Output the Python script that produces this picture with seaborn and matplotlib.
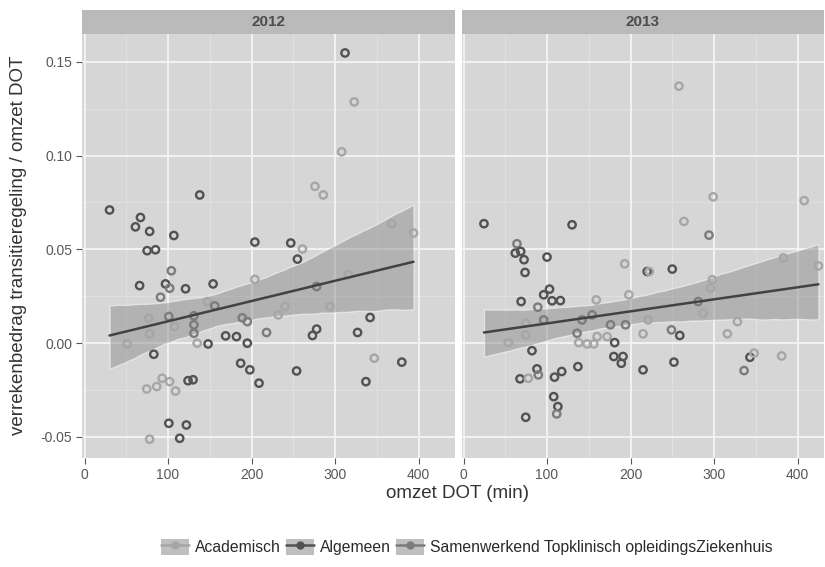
import numpy as np
import pandas as pd
import seaborn as sns
import matplotlib
matplotlib.use("Agg")
import matplotlib.pyplot as plt
from matplotlib.patches import Rectangle, Patch
from matplotlib.lines import Line2D
from matplotlib.legend_handler import HandlerTuple

# ---------------- data ----------------
categories = ["Academisch", "Algemeen", "Samenwerkend Topklinisch opleidingsZiekenhuis"]
years = ["2012", "2013"]

x_2012 = [312, 323, 308, 138, 276, 286, 30, 67, 61, 78, 107, 368, 394, 204, 75, 85,
          104, 97, 102, 66, 121, 154, 204, 91, 147, 156, 77, 101, 131, 131, 108, 78,
          131, 195, 218, 51, 135, 148, 169, 182, 195, 83, 187, 198, 209, 124, 130,
          74.5, 86.5, 93, 102, 109, 101, 122, 78, 114, 247, 261, 255, 316, 278, 232,
          294, 240, 342, 278, 273, 327, 347, 380, 254, 337, 189]
y_2012 = [0.1547, 0.1286, 0.102, 0.079, 0.0836, 0.079, 0.071, 0.067, 0.062, 0.0596,
          0.0574, 0.0637, 0.0587, 0.0539, 0.0493, 0.0498, 0.0386, 0.0316, 0.0293,
          0.0307, 0.029, 0.0316, 0.034, 0.0245, 0.0222, 0.0199, 0.0133, 0.0142,
          0.0146, 0.0098, 0.0089, 0.005, 0.0053, 0.0115, 0.0057, -0.0004, 0.0,
          -0.0004, 0.0039, 0.0035, 0.0, -0.0059, -0.0107, -0.0142, -0.0213, -0.020,
          -0.0195, -0.0244, -0.0231, -0.0187, -0.0205, -0.0255, -0.0427, -0.0436,
          -0.0512, -0.0507, 0.0534, 0.0502, 0.0448, 0.0364, 0.0302, 0.0151, 0.0195,
          0.0195, 0.0137, 0.0075, 0.0041, 0.0057, -0.008, -0.0101, -0.0148, -0.0205,
          0.0135]
cat_2012 = ["G", "A", "A", "G", "A", "A", "G", "G", "G", "G", "G", "A", "A", "G", "G", "G",
            "S", "G", "S", "G", "G", "G", "A", "S", "A", "S", "A", "S", "S", "S", "A", "A",
            "S", "S", "S", "A", "A", "G", "G", "G", "G", "G", "G", "G", "G", "G", "G",
            "A", "A", "A", "A", "A", "G", "G", "A", "G", "G", "A", "G", "A", "S", "A",
            "A", "A", "G", "G", "G", "G", "A", "G", "G", "G", "S"]

x_2013 = [258, 299, 408, 24.5, 130, 264, 294, 64, 62, 68.5, 72.5, 73.7, 100, 193, 220,
          103, 96, 106, 116, 69, 159, 198, 89, 96, 74.5, 74.5, 53.7, 142, 136, 154, 176,
          194, 138, 148, 156, 160, 172, 181, 215, 82, 180, 191, 189, 137, 215, 67.7,
          77.6, 88, 89.6, 109, 117.6, 108, 113, 111.6, 74.5, 383, 425, 222.5, 250, 298,
          296, 281, 287, 328, 221, 249, 259, 316, 252, 343, 348, 381, 336]
y_2013 = [0.137, 0.078, 0.076, 0.0637, 0.0631, 0.0649, 0.0576, 0.053, 0.048, 0.0489,
          0.0445, 0.0377, 0.0459, 0.0423, 0.0382, 0.0288, 0.0258, 0.0226, 0.0227,
          0.0222, 0.0231, 0.0258, 0.0192, 0.0124, 0.0107, 0.0044, 0.0003, 0.0124,
          0.0053, 0.0151, 0.0098, 0.0098, 0.0003, -0.0004, -0.0004, 0.0035, 0.0035,
          0.0003, 0.005, -0.004, -0.0071, -0.0071, -0.0107, -0.0125, -0.0142, -0.019,
          -0.0187, -0.0137, -0.0169, -0.0181, -0.0151, -0.0285, -0.0338, -0.0377,
          -0.0395, 0.0454, 0.0412, 0.0382, 0.0395, 0.0338, 0.0293, 0.0222, 0.016,
          0.0115, 0.0124, 0.0071, 0.0041, 0.005, -0.0101, -0.0075, -0.0053, -0.0068,
          -0.0146]
cat_2013 = ["A", "A", "A", "G", "G", "A", "S", "S", "G", "G", "G", "G", "G", "A", "G",
            "G", "G", "G", "G", "G", "A", "A", "S", "S", "A", "A", "A", "S", "S", "S", "S",
            "S", "A", "A", "A", "A", "A", "G", "A", "G", "G", "G", "G", "G", "G", "G",
            "A", "G", "S", "G", "G", "G", "G", "S", "G", "A", "A", "A", "G", "A",
            "A", "S", "A", "A", "A", "S", "G", "A", "G", "G", "A", "A", "S"]

xticks = [0, 100, 200, 300, 400]
yticks = [-0.05, 0.0, 0.05, 0.10, 0.15]
ytick_labels = ["-0.05", "0.00", "0.05", "0.10", "0.15"]

code_map = {"A": categories[0], "G": categories[1], "S": categories[2]}
frames = []
for yr, xs, ys, cs in [("2012", x_2012, y_2012, cat_2012), ("2013", x_2013, y_2013, cat_2013)]:
    frames.append(pd.DataFrame({"year": yr, "omzet": xs, "ratio": ys,
                                "type": [code_map[c] for c in cs]}))
df = pd.concat(frames, ignore_index=True)

# ---------------- style ----------------
sns.set_style("white")
plt.rcParams["font.family"] = ["Liberation Sans", "DejaVu Sans"]

palette = {categories[0]: "#a6a6a6", categories[1]: "#525252", categories[2]: "#7c7c7c"}
panel_bg = "#d6d6d6"
strip_bg = "#bababa"
tick_col = "#585858"

W, H = 825, 567
fig = plt.figure(figsize=(W / 100, H / 100), dpi=100)
fig.patch.set_facecolor("white")

panel_px = [(82, 455, -3.0, 443.7), (462, 824, -1.8, 431.7)]
top_px, bot_px = 34, 458
ylim = (-0.0612, 0.1648)

axes = []
for i, (yr, (l, r, x0, x1)) in enumerate(zip(years, panel_px)):
    ax = fig.add_axes([l / W, 1 - bot_px / H, (r - l) / W, (bot_px - top_px) / H])
    axes.append(ax)
    ax.set_facecolor(panel_bg)
    sub = df[df["year"] == yr]
    # grid
    for v in [50, 150, 250, 350]:
        ax.axvline(v, color="#e2e2e2", lw=0.6, zorder=0)
    for v in [-0.025, 0.025, 0.075, 0.125]:
        ax.axhline(v, color="#e2e2e2", lw=0.6, zorder=0)
    for v in xticks:
        ax.axvline(v, color="#f4f4f4", lw=1.3, zorder=0)
    for v in yticks:
        ax.axhline(v, color="#f4f4f4", lw=1.3, zorder=0)

    sns.scatterplot(data=sub, x="omzet", y="ratio", hue="type", palette=palette,
                    hue_order=categories, marker="o", s=28, facecolors="none",
                    linewidth=1.7, legend=False, ax=ax, zorder=3)
    coll = ax.collections[-1]
    coll.set_edgecolors([palette[t] for t in sub["type"]])
    coll.set_facecolors("none")

    sns.regplot(data=sub, x="omzet", y="ratio", scatter=False, ci=95, seed=0,
                color="#424242", line_kws={"lw": 1.8, "zorder": 4}, ax=ax)
    band = ax.collections[-1]
    band.set_facecolor("#909090")
    band.set_alpha(0.5)
    band.set_zorder(2)

    ax.set_xlim(x0, x1)
    ax.set_ylim(*ylim)
    ax.set_xticks(xticks)
    ax.set_xticklabels([str(t) for t in xticks])
    ax.set_xlabel("")
    ax.set_ylabel("")
    for s in ax.spines.values():
        s.set_visible(False)
    ax.tick_params(axis="x", length=4, width=0.8, color=tick_col, labelcolor=tick_col,
                   labelsize=10, pad=3, bottom=True)
    if i == 0:
        ax.set_yticks(yticks)
        ax.set_yticklabels(ytick_labels)
        ax.tick_params(axis="y", length=4, width=0.8, color=tick_col, labelcolor=tick_col,
                       labelsize=10, pad=3, left=True)
    else:
        ax.set_yticks(yticks)
        ax.tick_params(axis="y", left=False, labelleft=False)

    # strip
    sh = 24 / (bot_px - top_px)
    ax.add_patch(Rectangle((0, 1.0), 1, sh, transform=ax.transAxes, facecolor=strip_bg,
                           edgecolor="none", clip_on=False, zorder=1))
    ax.text(0.5, 1 + sh / 2, yr, transform=ax.transAxes, ha="center", va="center",
            fontsize=11, fontweight="bold", color="#4d4d4d")

fig.text(457 / W, 1 - 494 / H, "omzet DOT (min)", ha="center", va="center",
         fontsize=13.5, color="#333333")
fig.text(19 / W, 1 - 245 / H, "verrekenbedrag transitieregeling / omzet DOT", ha="center",
         va="center", rotation=90, fontsize=13.5, color="#333333")

handles = []
for c in categories:
    box = Patch(facecolor="#bfbfbf", edgecolor="none")
    ln = Line2D([], [], color=palette[c], lw=1.8)
    mk = Line2D([], [], color=palette[c], marker="o", markersize=5, lw=0,
                markerfacecolor=palette[c])
    handles.append((box, ln, mk))
fig.legend(handles, categories, loc="center", bbox_to_anchor=(467 / W, 1 - 547 / H),
           ncol=3, frameon=False, fontsize=11.3,
           handler_map={tuple: HandlerTuple(ndivide=1, pad=0)},
           handlelength=1.78, handleheight=1.27, columnspacing=0.3, handletextpad=0.4,
           labelcolor="#2a2a2a")

fig.savefig("out.png", dpi=100, facecolor="white")
